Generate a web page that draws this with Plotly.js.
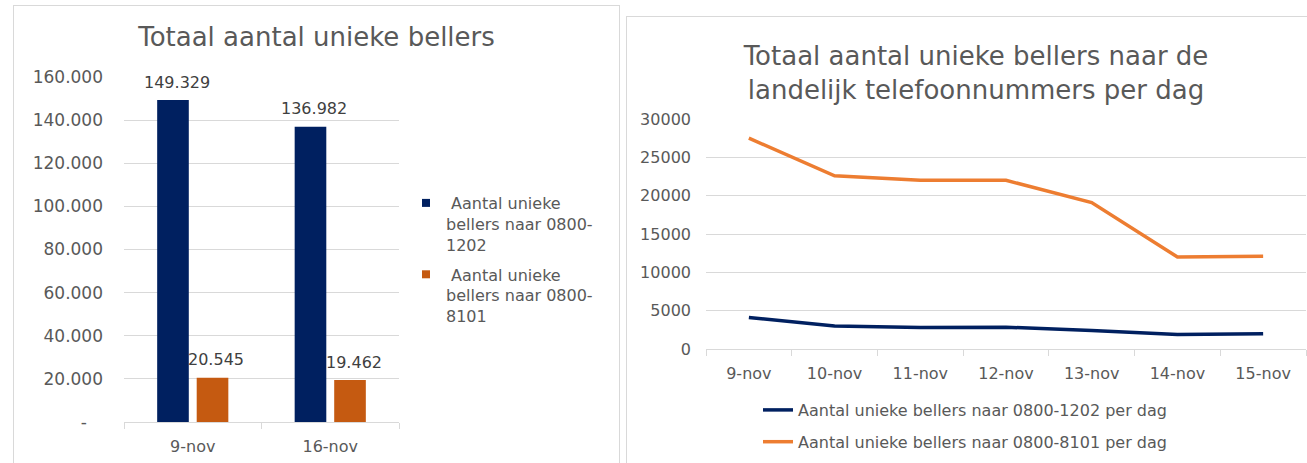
<!DOCTYPE html>
<html>
<head>
<meta charset="utf-8">
<script src="https://cdn.plot.ly/plotly-3.0.1.min.js"></script>
<style>
  html, body { margin:0; padding:0; background:#fff; overflow:hidden; }
  body { width:1307px; height:463px; position:relative; }
  .panel { position:absolute; border:1px solid #d9d9d9; box-sizing:border-box; background:#fff; }
  #p1 { left:13px; top:5px; width:607px; height:470px; }
  #p2 { left:626px; top:16px; width:700px; height:460px; }
</style>
</head>
<body>
<div id="p1" class="panel"><div id="chart1"></div></div>
<div id="p2" class="panel"><div id="chart2"></div></div>
<script>
// ---- Data: left chart (totals) ----
const totalCategories = ['9-nov', '16-nov'];
const total1202 = [149329, 136982];
const total8101 = [20545, 19462];
const totalTickVals = [0, 20000, 40000, 60000, 80000, 100000, 120000, 140000, 160000];
const totalTickText = ['-\u00a0\u00a0\u00a0', '20.000', '40.000', '60.000', '80.000', '100.000', '120.000', '140.000', '160.000'];
const totalLegend1202 = '\u00a0Aantal unieke<br>bellers naar 0800-<br>1202';
const totalLegend8101 = '\u00a0Aantal unieke<br>bellers naar 0800-<br>8101';

// ---- Data: right chart (per day) ----
const days = ['9-nov', '10-nov', '11-nov', '12-nov', '13-nov', '14-nov', '15-nov'];
const perDay1202 = [4100, 3000, 2800, 2850, 2400, 1900, 2000];
const perDay8101 = [27500, 22600, 22000, 22000, 19100, 12000, 12100];
const dayLegend1202 = 'Aantal unieke bellers naar 0800-1202 per dag';
const dayLegend8101 = 'Aantal unieke bellers naar 0800-8101 per dag';

const NAVY = '#002060';
const ORANGE_BAR = '#C55A11';
const ORANGE_LINE = '#ED7D31';
const GRID = '#d9d9d9';
const TXT = '#595959';
const FONT = 'DejaVu Sans, Verdana, sans-serif';

// ---------- Chart 1 ----------
const fmt = v => v.toLocaleString('de-DE');
const barSeries = [
  {vals: total1202, color: NAVY, name: totalLegend1202, side: -1},
  {vals: total8101, color: ORANGE_BAR, name: totalLegend8101, side: 1}
];
const traces1 = [];
const annots1 = [];
barSeries.forEach((s, i) => {
  traces1.push({
    type: 'bar', x: totalCategories, y: s.vals,
    marker: {color: s.color}, showlegend: false, hoverinfo: 'skip'
  });
  s.vals.forEach((v, j) => {
    annots1.push({
      x: totalCategories[j], y: v, xref: 'x', yref: 'y',
      text: fmt(v), showarrow: false, yanchor: 'middle',
      xshift: s.side * 19.75 + 3.5, yshift: 18,
      font: {family: FONT, size: 16, color: '#404040'}
    });
  });
});
// legend entries (small square symbols)
barSeries.forEach((s, i) => {
  traces1.push({
    type: 'scatter', mode: 'markers', x: [null], y: [null],
    name: s.name, legendgroup: 'g' + i,
    marker: {symbol: 'square', size: 8, color: s.color}, hoverinfo: 'skip'
  });
});

const layout1 = {
  width: 605, height: 458,
  margin: {l: 110, r: 220, t: 71, b: 42, autoexpand: false},
  paper_bgcolor: '#fff', plot_bgcolor: '#fff',
  separators: ',.',
  font: {family: FONT, size: 16, color: TXT},
  title: {text: 'Totaal aantal unieke bellers', xref: 'container', x: 0.5, xanchor: 'center',
          yref: 'container', y: 1 - 31/458, yanchor: 'middle',
          font: {family: FONT, size: 26, color: TXT}},
  barmode: 'group', bargap: 0.425, bargroupgap: 0.2,
  xaxis: {type: 'category', showline: true, linecolor: GRID, linewidth: 1,
          ticks: 'outside', tickson: 'boundaries', ticklen: 6, tickcolor: GRID,
          showgrid: false, tickfont: {family: FONT, size: 16, color: TXT}, ticklabelstandoff: 10,
          fixedrange: true},
  yaxis: {range: [0, 160000], tickvals: totalTickVals, ticktext: totalTickText,
          showgrid: true, gridcolor: GRID, gridwidth: 1, zeroline: false, showline: false,
          tickfont: {family: FONT, size: 17, color: TXT}, ticklabelstandoff: 20, fixedrange: true},
  legend: {xref: 'container', yref: 'container', x: 392/605, y: 1 - 180/458,
           xanchor: 'left', yanchor: 'top', valign: 'top', tracegroupgap: 6,
           font: {family: FONT, size: 16, color: TXT}, bgcolor: 'rgba(0,0,0,0)'},
  annotations: annots1,
  showlegend: true
};
Plotly.newPlot('chart1', traces1, layout1, {displayModeBar: false, staticPlot: true});

// ---------- Chart 2 ----------
const traces2 = [
  {type: 'scatter', mode: 'lines', x: days, y: perDay1202, name: dayLegend1202, legendgroup: 'a',
   line: {color: NAVY, width: 3.5}, hoverinfo: 'skip'},
  {type: 'scatter', mode: 'lines', x: days, y: perDay8101, name: dayLegend8101, legendgroup: 'b',
   line: {color: ORANGE_LINE, width: 3.5}, hoverinfo: 'skip'}
];
const layout2 = {
  width: 698, height: 458,
  margin: {l: 79, r: 19, t: 102, b: 126, autoexpand: false},
  paper_bgcolor: '#fff', plot_bgcolor: '#fff',
  font: {family: FONT, size: 16, color: TXT},
  title: {text: 'Totaal aantal unieke bellers naar de<br>landelijk telefoonnummers per dag',
          xref: 'container', x: 0.5, xanchor: 'center',
          yref: 'container', y: 1 - 48/458, yanchor: 'middle',
          font: {family: FONT, size: 26, color: TXT}},
  xaxis: {type: 'category', range: [-0.5, days.length - 0.5], showline: true, linecolor: GRID, linewidth: 1,
          ticks: 'outside', tickson: 'boundaries', ticklen: 6, tickcolor: GRID,
          showgrid: false, tickangle: 0, tickfont: {family: FONT, size: 16, color: TXT}, ticklabelstandoff: 10,
          fixedrange: true},
  yaxis: {range: [0, 30000], dtick: 5000, tickformat: 'd',
          showgrid: true, gridcolor: GRID, gridwidth: 1, zeroline: false, showline: false,
          tickfont: {family: FONT, size: 16, color: TXT}, ticklabelstandoff: 14, fixedrange: true},
  legend: {xref: 'container', yref: 'container', x: 131/698, y: 1 - 376/458,
           xanchor: 'left', yanchor: 'top', tracegroupgap: 8,
           font: {family: FONT, size: 16, color: TXT}, bgcolor: 'rgba(0,0,0,0)'},
  showlegend: true
};
Plotly.newPlot('chart2', traces2, layout2, {displayModeBar: false, staticPlot: true});
</script>
</body>
</html>
